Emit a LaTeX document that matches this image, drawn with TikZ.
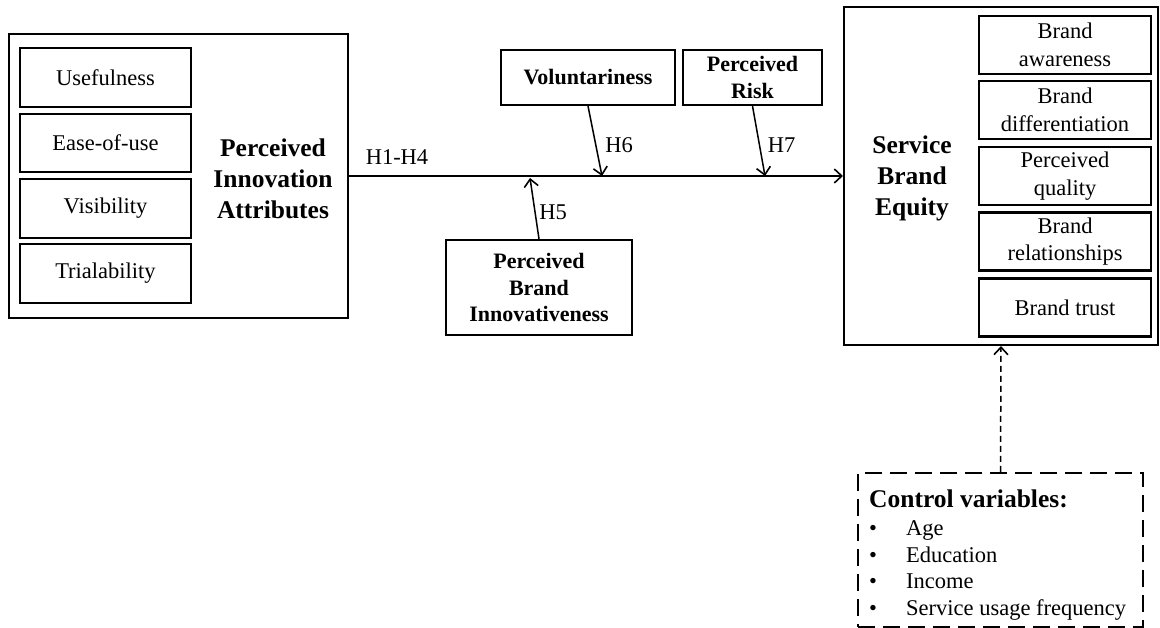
\documentclass[tikz,border=0pt]{standalone}
\usepackage{fontspec}
\setmainfont{Liberation Serif}
\usetikzlibrary{arrows.meta}
\begin{document}
\begin{tikzpicture}[x=1pt,y=-1pt,
  bx/.style={draw, line width=2.1pt, inner sep=0pt, align=center},
  reg/.style={font=\fontsize{22.5}{27.5}\selectfont},
  big/.style={font=\fontsize{25.5}{31}\selectfont\bfseries, align=center, inner sep=0pt},
  sbold/.style={font=\fontsize{22}{26.5}\selectfont\bfseries},
  arr/.style={line width=1.5pt, -{Straight Barb[length=7.5pt,width=14pt,line width=1.6pt]}},
  hl/.style={reg, inner sep=0pt},
  citem/.style={reg, inner sep=0pt, anchor=base west}]
\fill[white] (0,0) rectangle (1160,628);
\useasboundingbox (0,0) rectangle (1160,628);

% left block
\node[bx, minimum width=339pt, minimum height=284pt] (pia) at (178.5,176) {};
\node[bx, reg, minimum width=171pt, minimum height=58.5pt] (use) at (105.5,77.5) {Usefulness};
\node[bx, reg, minimum width=171pt, minimum height=58.5pt] (ease) at (105.5,143) {Ease-of-use};
\node[bx, reg, minimum width=171pt, minimum height=58.5pt] (vis) at (105.5,208.5) {Visibility};
\node[bx, reg, minimum width=171pt, minimum height=58.5pt] (tri) at (105.5,273.5) {Trialability};
\node[big] (pialbl) at (273,179) {Perceived\\Innovation\\Attributes};

% moderators
\node[bx, sbold, minimum width=174pt, minimum height=55pt] (vol) at (588,77.5) {Voluntariness};
\node[bx, sbold, minimum width=139pt, minimum height=55pt] (risk) at (752.5,77.5) {Perceived\\Risk};
\node[bx, sbold, minimum width=186pt, minimum height=95pt] (pbi) at (539,287.5) {Perceived\\Brand\\Innovativeness};

% right block
\node[bx, minimum width=314pt, minimum height=338pt] (sbe) at (1001,176) {};
\node[bx, reg, minimum width=172pt, minimum height=58pt] (aw) at (1065,45) {Brand\\awareness};
\node[bx, reg, minimum width=172pt, minimum height=58pt] (dif) at (1065,110) {Brand\\differentiation};
\node[bx, reg, minimum width=172pt, minimum height=58pt] (pq) at (1065,176) {Perceived\\quality};
\node[bx, reg, minimum width=172pt, minimum height=58pt] (rel) at (1065,241.5) {Brand\\relationships};
\node[bx, reg, minimum width=172pt, minimum height=58pt] (trust) at (1065,307.5) {Brand trust};
\node[big] (sbelbl) at (912,178) {Service\\Brand\\Equity};

% control variables
\node[draw, line width=2.2pt, dash pattern=on 17pt off 8pt, inner sep=0pt,
      minimum width=285pt, minimum height=154pt] (ctrl) at (1000.5,550) {};
\node[inner sep=0pt, anchor=base west, font=\fontsize{25.5}{31}\selectfont\bfseries] (ctitle) at (869,507) {Control variables:};
\node[citem] (c1) at (869,535) {\makebox[37pt][l]{•}Age};
\node[citem] (c2) at (869,562) {\makebox[37pt][l]{•}Education};
\node[citem] (c3) at (869,588) {\makebox[37pt][l]{•}Income};
\node[citem] (c4) at (869,615) {\makebox[37pt][l]{•}Service usage frequency};

% connectors
\coordinate (t6) at (602,176);
\coordinate (t7) at (765,176);
\coordinate (t5) at (530,178);
\draw[arr] (pia.east) -- (sbe.west);
\draw[arr] (vol.south) -- (t6);
\draw[arr] (risk.south) -- (t7);
\draw[arr] (pbi.north) -- (t5);
\draw[arr, dash pattern=on 6pt off 4pt] (ctrl.north) -- (sbe.south);

% labels
\node[hl] (h14) at (397,157) {H1-H4};
\node[hl] (h6) at (619,145) {H6};
\node[hl] (h7) at (781.5,145) {H7};
\node[hl] (h5) at (553,212) {H5};
\end{tikzpicture}
\end{document}
